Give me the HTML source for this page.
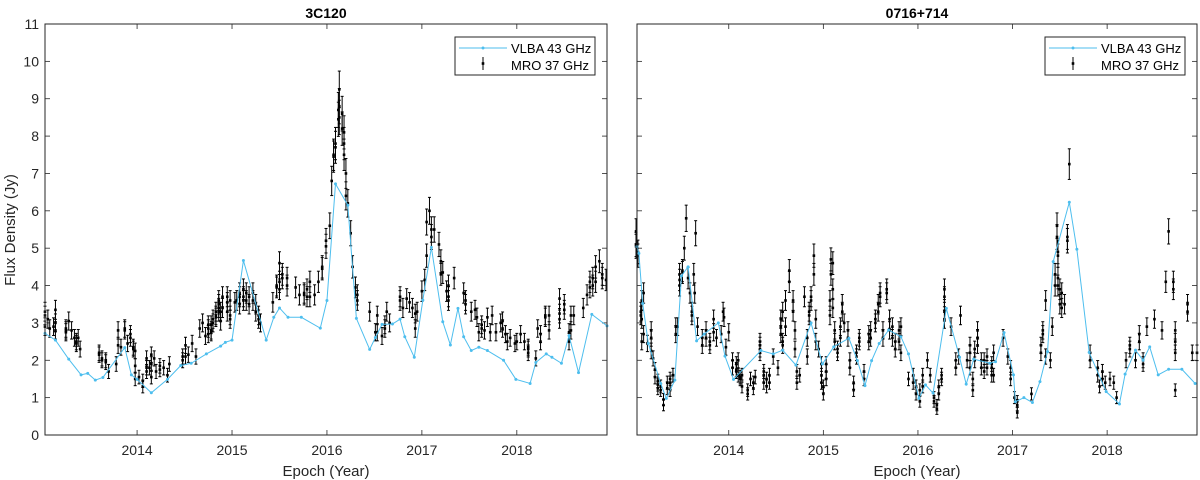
<!DOCTYPE html>
<html><head><meta charset="utf-8"><style>
html,body{margin:0;padding:0;background:#fff;}
svg{display:block;font-family:"Liberation Sans",Arial,sans-serif;}
</style></head><body>
<svg id="chart" width="1200" height="480" viewBox="0 0 1200 480"></svg>
<script>
// ---- data ----
const yTicks=[0,1,2,3,4,5,6,7,8,9,10,11];
const xTicks=[2014,2015,2016,2017,2018];
const vlba3c120=[[2013.03,2.72],[2013.14,2.54],[2013.28,2.03],[2013.41,1.61],[2013.48,1.65],[2013.56,1.47],[2013.64,1.54],[2013.87,2.34],[2013.94,1.61],[2014.0,1.49],[2014.15,1.13],[2014.32,1.49],[2014.46,1.86],[2014.57,1.92],[2014.73,2.17],[2014.88,2.38],[2014.93,2.48],[2015.0,2.54],[2015.12,4.67],[2015.36,2.54],[2015.44,3.15],[2015.5,3.4],[2015.59,3.15],[2015.73,3.15],[2015.93,2.86],[2016.0,3.6],[2016.09,6.72],[2016.22,6.15],[2016.31,3.12],[2016.45,2.29],[2016.51,2.61],[2016.58,2.96],[2016.69,2.97],[2016.77,3.1],[2016.82,2.63],[2016.92,2.08],[2017.01,3.61],[2017.1,5.02],[2017.22,3.03],[2017.3,2.41],[2017.38,3.39],[2017.44,2.63],[2017.52,2.26],[2017.6,2.35],[2017.69,2.26],[2017.86,2.0],[2017.99,1.49],[2018.14,1.38],[2018.2,1.94],[2018.31,2.17],[2018.37,2.08],[2018.47,1.92],[2018.55,2.66],[2018.65,1.67],[2018.79,3.23],[2018.95,2.92]];
const mro3c120=[[2013.03,[2.9,3.2,3.3]],[2013.06,[3.1]],[2013.08,[2.85]],[2013.12,[2.9]],[2013.14,[3.35,3.0,2.8]],[2013.25,[2.8,2.85,2.75]],[2013.28,[3.05]],[2013.31,[2.8]],[2013.34,[2.6]],[2013.36,[2.45,2.5]],[2013.38,[2.6]],[2013.4,[2.3]],[2013.6,[2.2,2.15]],[2013.63,[2.0,2.05]],[2013.67,[1.95,2.0]],[2013.7,[1.7]],[2013.78,[1.9]],[2013.8,[2.8,2.4]],[2013.83,[2.35]],[2013.87,[2.85,2.8]],[2013.9,[2.45]],[2013.93,[2.6,2.7]],[2013.96,[2.35,2.3]],[2013.98,[1.85,1.5,2.25]],[2014.02,[1.55]],[2014.06,[1.45,1.3]],[2014.1,[2.05,1.7,1.8]],[2014.13,[1.8]],[2014.15,[1.55,1.9,2.15]],[2014.18,[2.05]],[2014.2,[1.7]],[2014.24,[1.85,1.75]],[2014.28,[1.8]],[2014.32,[1.6]],[2014.34,[1.9]],[2014.48,[2.0,2.1]],[2014.51,[2.1,2.4]],[2014.54,[2.15]],[2014.58,[2.45]],[2014.62,[2.1]],[2014.66,[2.85]],[2014.69,[3.0]],[2014.72,[2.65]],[2014.75,[2.7,2.85,2.95]],[2014.78,[2.8,2.95,2.75]],[2014.8,[3.1,3.0]],[2014.83,[3.2,3.3,3.15]],[2014.86,[3.3,3.5,3.4,3.6]],[2014.88,[3.05,3.3]],[2014.9,[3.7,3.4]],[2014.95,[3.55,3.7,3.3]],[2014.98,[3.6,3.2,3.1]],[2015.03,[3.55]],[2015.05,[3.6]],[2015.08,[3.8,3.7,3.5]],[2015.12,[3.7,3.6,3.9]],[2015.15,[3.6,3.8]],[2015.18,[3.5,3.7]],[2015.22,[3.6,3.8]],[2015.25,[3.5,3.3]],[2015.28,[3.1,3.2]],[2015.3,[3.0]],[2015.43,[3.55]],[2015.47,[3.95,4.0]],[2015.5,[4.6,4.1,3.9]],[2015.53,[4.2,4.3]],[2015.58,[4.2,4.0]],[2015.67,[3.95]],[2015.71,[3.75]],[2015.76,[3.75,3.8]],[2015.79,[3.9,3.7]],[2015.82,[4.1,3.7]],[2015.87,[3.75]],[2015.91,[4.1]],[2015.95,[4.45,4.5]],[2015.99,[5.2,5.05]],[2016.03,[5.6]],[2016.05,[6.8]],[2016.07,[7.5,7.45]],[2016.09,[7.7,7.8]],[2016.12,[8.45,8.7]],[2016.13,[9.25,8.8,8.5]],[2016.16,[8.6,8.2]],[2016.18,[7.8,7.5,8.1]],[2016.2,[7.0,6.4]],[2016.22,[6.2]],[2016.25,[5.4]],[2016.27,[4.5]],[2016.3,[3.95]],[2016.32,[3.75,3.6]],[2016.45,[3.3]],[2016.51,[2.75]],[2016.53,[3.2,2.75]],[2016.58,[2.65]],[2016.61,[2.85,2.95]],[2016.63,[3.3]],[2016.66,[3.0]],[2016.77,[3.6,3.7]],[2016.8,[3.4]],[2016.84,[3.65]],[2016.87,[3.55]],[2016.9,[3.4]],[2016.93,[3.25,2.85]],[2016.95,[3.3]],[2017.0,[3.85]],[2017.03,[4.15]],[2017.05,[4.8,5.7]],[2017.08,[6.0]],[2017.1,[5.3,5.5]],[2017.13,[5.5]],[2017.18,[5.1]],[2017.2,[4.3,4.65]],[2017.22,[4.35]],[2017.26,[3.85]],[2017.28,[3.6,4.0,3.7]],[2017.34,[4.2]],[2017.44,[3.8]],[2017.46,[3.5,3.6]],[2017.52,[3.3]],[2017.56,[3.35]],[2017.58,[3.15]],[2017.6,[2.75]],[2017.63,[2.85,2.95]],[2017.66,[2.8]],[2017.69,[3.15]],[2017.72,[2.75]],[2017.74,[3.2]],[2017.78,[2.75]],[2017.83,[3.0]],[2017.85,[2.85,3.05]],[2017.88,[2.7]],[2017.9,[2.5]],[2017.93,[2.6]],[2017.98,[2.45]],[2018.0,[2.5]],[2018.04,[2.7]],[2018.08,[2.5]],[2018.12,[2.2,2.3,2.35]],[2018.2,[2.05]],[2018.22,[2.85]],[2018.25,[2.5,2.7]],[2018.3,[3.15,3.2]],[2018.34,[2.8,3.2]],[2018.45,[3.1,3.25,3.65]],[2018.5,[3.35,3.5]],[2018.55,[2.5,2.75]],[2018.57,[2.8,3.2]],[2018.6,[3.2]],[2018.7,[3.4]],[2018.74,[3.75]],[2018.77,[3.95,4.1]],[2018.8,[4.2,4.0]],[2018.83,[4.5,4.1]],[2018.87,[4.65]],[2018.9,[4.2,4.3]],[2018.94,[4.15]]];
const vlba0716=[[2013.03,5.04],[2013.05,4.86],[2013.09,3.52],[2013.15,2.45],[2013.28,1.38],[2013.34,0.98],[2013.43,1.47],[2013.5,4.26],[2013.57,4.5],[2013.66,2.52],[2013.74,2.7],[2013.89,3.0],[2013.96,2.11],[2014.05,1.49],[2014.34,2.26],[2014.47,2.17],[2014.57,2.27],[2014.71,1.87],[2014.87,3.0],[2014.99,1.9],[2015.11,2.36],[2015.27,2.59],[2015.36,1.99],[2015.44,1.32],[2015.51,1.99],[2015.59,2.45],[2015.69,2.81],[2015.82,2.63],[2015.9,2.17],[2016.01,0.98],[2016.08,1.34],[2016.16,1.12],[2016.3,3.39],[2016.44,2.08],[2016.51,1.36],[2016.59,2.03],[2016.76,1.92],[2016.82,1.96],[2016.91,2.74],[2017.01,1.61],[2017.03,0.89],[2017.12,1.0],[2017.21,0.87],[2017.29,1.43],[2017.37,2.23],[2017.43,4.64],[2017.6,6.23],[2017.68,4.97],[2017.81,2.21],[2017.99,1.16],[2018.13,0.83],[2018.19,1.63],[2018.3,2.27],[2018.38,2.0],[2018.45,2.36],[2018.54,1.61],[2018.65,1.76],[2018.79,1.76],[2018.93,1.38]];
const mro0716=[[2013.02,[5.45,5.05,5.1]],[2013.04,[4.9,4.8]],[2013.07,[3.3,3.2]],[2013.08,[2.5,3.6,3.1]],[2013.1,[3.8,2.7]],[2013.14,[2.45]],[2013.18,[2.8,2.6,2.25]],[2013.2,[2.05]],[2013.22,[1.75,1.55]],[2013.25,[1.45,1.35,1.25]],[2013.28,[1.2,1.3]],[2013.31,[0.95,0.8]],[2013.35,[1.4,1.25]],[2013.38,[1.4,1.2,1.5]],[2013.41,[1.6,1.6]],[2013.44,[2.9,2.7]],[2013.46,[2.9]],[2013.48,[4.0,4.15,4.3]],[2013.51,[4.4,4.35]],[2013.53,[5.0]],[2013.55,[5.8]],[2013.57,[4.2]],[2013.59,[3.8]],[2013.61,[3.2,3.3]],[2013.63,[4.3]],[2013.64,[3.8]],[2013.65,[5.4]],[2013.67,[2.9]],[2013.72,[2.4,2.6]],[2013.76,[2.6,2.8]],[2013.8,[2.4,2.5]],[2013.84,[3.1,2.75]],[2013.87,[2.6]],[2013.92,[2.7]],[2013.94,[3.3]],[2013.95,[3.15]],[2013.97,[2.35]],[2014.0,[2.75]],[2014.04,[2.0,1.8]],[2014.08,[1.9,1.75,1.7]],[2014.1,[2.0,1.6]],[2014.12,[1.5,1.55]],[2014.14,[1.3,1.6]],[2014.2,[1.2,1.1]],[2014.23,[1.5]],[2014.26,[1.25,1.4]],[2014.28,[1.55]],[2014.33,[2.4,2.2,2.3,2.5]],[2014.37,[1.6,1.4,1.7]],[2014.4,[1.3,1.5]],[2014.43,[1.4,1.6]],[2014.47,[2.1]],[2014.52,[1.8]],[2014.55,[2.7,2.9,3.1]],[2014.57,[2.4,2.5,3.3]],[2014.6,[2.9,3.6]],[2014.64,[4.4,4.1]],[2014.68,[3.6,3.3]],[2014.7,[2.8,2.3]],[2014.72,[1.7,1.4]],[2014.75,[1.6]],[2014.8,[3.7]],[2014.83,[2.6,2.1]],[2014.85,[3.2,3.3]],[2014.87,[3.7,3.6]],[2014.9,[4.8,4.3]],[2014.92,[3.1,2.5]],[2014.95,[2.3]],[2014.98,[1.9,1.6,1.4]],[2015.0,[1.3,1.1]],[2015.03,[1.5,1.7,1.9]],[2015.07,[3.6,3.2]],[2015.08,[4.7,4.3]],[2015.1,[4.6,3.9,3.4]],[2015.12,[2.8,2.5]],[2015.15,[2.2,2.3]],[2015.18,[2.6,2.9]],[2015.2,[3.5,3.3]],[2015.22,[3.0]],[2015.26,[2.6,2.8]],[2015.28,[1.8,2.0]],[2015.32,[1.4,1.2]],[2015.35,[2.1,2.2]],[2015.38,[2.5,2.6]],[2015.43,[1.7,1.5]],[2015.48,[2.7,2.5]],[2015.5,[2.6,2.8]],[2015.55,[3.1,3.0]],[2015.58,[3.3,3.5]],[2015.6,[3.8,3.7]],[2015.63,[2.6,2.8]],[2015.67,[3.9,3.8]],[2015.7,[3.1,2.8]],[2015.73,[2.6,2.9]],[2015.76,[2.5,2.3]],[2015.8,[2.8,2.5]],[2015.82,[2.2,2.9]],[2015.9,[1.5]],[2015.95,[1.6,1.4]],[2015.98,[1.1,1.3]],[2016.02,[1.2,0.9]],[2016.05,[1.3,1.6]],[2016.1,[2.0]],[2016.13,[1.6]],[2016.17,[1.0,0.9]],[2016.2,[0.7,0.8]],[2016.22,[1.1,1.3]],[2016.25,[1.6,1.5]],[2016.28,[3.1,3.3,3.7,3.9]],[2016.35,[2.9]],[2016.4,[2.0,1.8]],[2016.43,[2.1]],[2016.45,[3.2]],[2016.52,[2.0]],[2016.55,[2.2,1.8,2.4]],[2016.58,[1.5,1.2]],[2016.6,[2.3,2.0]],[2016.63,[2.4,2.6,2.8]],[2016.67,[1.8,2.0]],[2016.7,[2.0,1.7]],[2016.73,[1.8,2.1]],[2016.78,[1.6,1.9,1.8]],[2016.8,[1.6,2.2]],[2016.9,[2.6]],[2016.95,[2.1]],[2016.98,[1.8,1.5]],[2017.02,[1.0]],[2017.05,[0.8,0.6,0.9]],[2017.2,[1.1]],[2017.3,[2.2,2.4]],[2017.32,[2.8,2.7]],[2017.35,[3.6,2.1]],[2017.4,[2.0]],[2017.42,[2.9]],[2017.45,[4.0,4.3]],[2017.47,[5.3,5.6]],[2017.48,[4.8,4.9,4.2,4.0]],[2017.5,[3.9,3.5]],[2017.52,[3.4,3.8]],[2017.55,[3.5]],[2017.58,[5.2,5.3]],[2017.6,[7.25]],[2017.82,[2.2,2.0]],[2017.9,[1.8,1.6]],[2017.92,[1.3]],[2017.95,[1.7,1.5]],[2017.98,[1.4]],[2018.03,[1.5]],[2018.07,[1.4]],[2018.1,[1.0]],[2018.2,[2.0]],[2018.24,[2.3,2.4]],[2018.3,[2.0]],[2018.34,[2.5,2.7]],[2018.38,[2.0,1.9]],[2018.42,[2.9]],[2018.5,[3.1]],[2018.58,[2.8]],[2018.62,[4.1]],[2018.65,[5.45]],[2018.7,[4.1,3.9]],[2018.72,[2.2,2.5,2.8,1.2]],[2018.85,[3.5,3.3]],[2018.9,[2.2]],[2018.95,[2.2]]];
// ---- drawing ----
const NS='http://www.w3.org/2000/svg';
const svg=document.getElementById('chart');
function mk(tag,attrs,parent){const e=document.createElementNS(NS,tag);for(const k in attrs)e.setAttribute(k,attrs[k]);(parent||svg).appendChild(e);return e;}
const TOP=24,BOT=435,X0=2013.03,X1=2018.95;
function drawPanel(id,left,right,title,vlba,mro,showY){
  const g=mk('g',{});
  
  
  const xs=v=>left+(v-X0)/(X1-X0)*(right-left);
  const ys=v=>BOT-v/11*(BOT-TOP);
  mk('rect',{x:left,y:TOP,width:right-left,height:BOT-TOP,fill:'#fff'},g);
  yTicks.forEach(t=>{
    const y=ys(t);
    mk('line',{x1:left,x2:left+5,y1:y,y2:y,stroke:'#262626','stroke-width':0.8},g);
    mk('line',{x1:right,x2:right-5,y1:y,y2:y,stroke:'#262626','stroke-width':0.8},g);
    if(showY){const tx=mk('text',{x:left-6,y:y+5,'text-anchor':'end','font-size':14,fill:'#262626'},g);tx.textContent=t;
      
      }
  });
  xTicks.forEach(t=>{
    const x=xs(t);
    mk('line',{x1:x,x2:x,y1:BOT,y2:BOT-5,stroke:'#262626','stroke-width':0.8},g);
    mk('line',{x1:x,x2:x,y1:TOP,y2:TOP+5,stroke:'#262626','stroke-width':0.8},g);
    const tx=mk('text',{x:x,y:BOT+20,'text-anchor':'middle','font-size':14,fill:'#262626'},g);tx.textContent=t;
    
    
  });
  // MRO points with error bars
  mro.forEach(([yr,vals])=>vals.forEach(v=>{
    const x=xs(yr),err=0.04*v+0.12;
    const e=mk('g',{},g);
    
    
    mk('line',{x1:x,x2:x,y1:ys(v+err),y2:ys(v-err),stroke:'#000','stroke-width':1},e);
    mk('line',{x1:x-1.5,x2:x+1.5,y1:ys(v+err),y2:ys(v+err),stroke:'#000','stroke-width':1},e);
    mk('line',{x1:x-1.5,x2:x+1.5,y1:ys(v-err),y2:ys(v-err),stroke:'#000','stroke-width':1},e);
    mk('rect',{x:x-1.3,y:ys(v)-1.3,width:2.6,height:2.6,fill:'#000'},e);
  }));
  // VLBA line
  const pl=mk('polyline',{points:vlba.map(p=>xs(p[0])+','+ys(p[1])).join(' '),fill:'none',stroke:'#4dbeee','stroke-width':1},g);
  
  
  vlba.forEach(p=>{const c=mk('circle',{cx:xs(p[0]),cy:ys(p[1]),r:1.5,fill:'#4dbeee'},g);
    
    });
  mk('rect',{x:left,y:TOP,width:right-left,height:BOT-TOP,fill:'none',stroke:'#262626','stroke-width':1},g);
  const tt=mk('text',{x:(left+right)/2,y:18,'text-anchor':'middle','font-size':14,'font-weight':'bold',fill:'#000'},g);tt.textContent=title;
  
  
  const xl=mk('text',{x:(left+right)/2,y:476,'text-anchor':'middle','font-size':15,fill:'#262626'},g);xl.textContent='Epoch (Year)';
  
  
  // legend
  const lg=mk('g',{},g);
  
  
  const lx=right-152,ly=37;
  mk('rect',{x:lx,y:ly,width:140,height:38,fill:'#fff',stroke:'#262626','stroke-width':1},lg);
  mk('line',{x1:lx+4,x2:lx+52,y1:ly+11,y2:ly+11,stroke:'#4dbeee','stroke-width':1},lg);
  mk('circle',{cx:lx+28,cy:ly+11,r:1.5,fill:'#4dbeee'},lg);
  const t1=mk('text',{x:lx+56,y:ly+16,'font-size':13,fill:'#000'},lg);t1.textContent='VLBA 43 GHz';
  
  
  mk('line',{x1:lx+28,x2:lx+28,y1:ly+20,y2:ly+33,stroke:'#000','stroke-width':1},lg);
  mk('rect',{x:lx+26.7,y:ly+25.2,width:2.6,height:2.6,fill:'#000'},lg);
  const t2=mk('text',{x:lx+56,y:ly+33,'font-size':13,fill:'#000'},lg);t2.textContent='MRO 37 GHz';
  
  
}
drawPanel('3c120',45,607,'3C120',vlba3c120,mro3c120,true);
drawPanel('0716',637,1197,'0716+714',vlba0716,mro0716,false);
const yl=mk('text',{x:0,y:0,'text-anchor':'middle','font-size':15,fill:'#262626',transform:'translate(15,230) rotate(-90)'});
yl.textContent='Flux Density (Jy)';


</script>
</body></html>
